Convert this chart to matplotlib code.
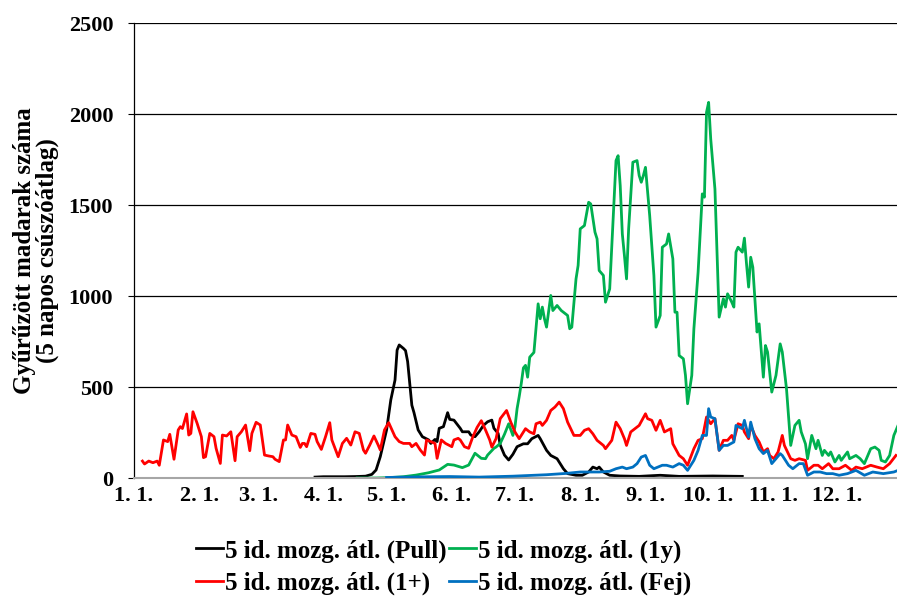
import matplotlib
matplotlib.use("Agg")
import matplotlib.pyplot as plt

# day offsets from Jan 1 and 5-day moving averages
pull_days = [86, 90, 95, 100, 105, 110, 113, 115, 117, 120, 122, 124, 125, 126, 128, 129, 130, 131,
             132, 133, 135, 137, 140, 141, 143, 144, 145, 147, 149, 150, 152, 155, 156, 159, 160, 162,
             164, 166, 168, 170, 171, 173, 174, 176, 178, 180, 182, 185, 187, 189, 192, 193, 196, 198,
             201, 204, 206, 210, 213, 216, 218, 220, 221, 223, 226, 231, 240, 250, 259, 275, 289]
pull_vals = [5, 7, 7, 7, 8, 10, 20, 44, 117, 264, 429, 538, 703, 731, 712, 700, 640, 520,
             400, 360, 264, 227, 209, 190, 212, 200, 273, 282, 359, 322, 318, 273, 254, 254, 236, 227,
             254, 289, 309, 318, 273, 245, 181, 126, 99, 130, 172, 188, 188, 216, 234, 216, 152, 124,
             106, 51, 24, 15, 15, 33, 60, 51, 60, 33, 15, 11, 9, 15, 9, 11, 9]

juv_days = [106, 115, 121, 128, 134, 140, 145, 149, 152, 156, 159, 162, 165, 167, 168, 171, 172, 174,
            176, 178, 180, 181, 182, 183, 184, 185, 186, 187, 188, 190, 192, 193, 194, 195, 196, 198,
            199, 201, 203, 206, 207, 208, 210, 211, 212, 214, 216, 217, 219, 220, 221, 223, 224, 226,
            227, 229, 230, 231, 232, 233, 234, 235, 237, 239, 240, 241, 242, 243, 245, 247, 248, 250,
            251, 252, 253, 254, 256, 257, 258, 259, 261, 262, 263, 265, 266, 268, 270, 271, 272, 273,
            274, 276, 278, 280, 281, 282, 284, 285, 286, 287, 289, 290, 291, 292, 293, 294, 296, 297,
            299, 300, 301, 303, 305, 307, 308, 310, 312, 314, 316, 317, 319, 320, 322, 324, 325, 327,
            328, 330, 331, 333, 335, 336, 339, 340, 343, 345, 347, 350, 352, 354, 355, 357, 359, 361, 363]
juv_vals = [0, 0, 2, 7, 16, 29, 44, 75, 71, 57, 71, 136, 108, 106, 126, 163, 170, 190,
            240, 298, 234, 282, 381, 447, 520, 605, 619, 554, 664, 690, 957, 875, 939, 875, 829, 1003,
            920, 948, 920, 893, 820, 829, 1094, 1168, 1369, 1387, 1515, 1506, 1351, 1314, 1140, 1113, 966, 1039,
            1277, 1744, 1771, 1607, 1341, 1222, 1094, 1369, 1735, 1744, 1662, 1625, 1662, 1707, 1442, 1113, 829, 893,
            1268, 1277, 1286, 1341, 1204, 911, 911, 673, 655, 564, 408, 564, 820, 1131, 1561, 1543, 2009, 2064,
            1863, 1588, 884, 985, 939, 1012, 966, 939, 1241, 1268, 1241, 1318, 1177, 1049, 1213, 1158, 802, 847,
            554, 728, 692, 472, 564, 737, 692, 490, 179, 289, 317, 253, 188, 106, 234, 161, 207, 124,
            152, 124, 143, 88, 124, 97, 143, 106, 124, 106, 79, 161, 170, 152, 97, 88, 124, 234, 289]

adult_days = [4, 5, 7, 9, 11, 12, 14, 16, 17, 19, 21, 22, 23, 25, 26, 27, 28, 30, 32, 33, 34, 36, 38, 39,
              41, 42, 44, 46, 48, 49, 51, 53, 55, 56, 58, 60, 62, 64, 66, 67, 69, 71, 72, 73, 75, 77, 79, 80,
              81, 82, 84, 86, 87, 89, 91, 93, 94, 97, 99, 101, 103, 105, 107, 109, 110, 112, 114, 116, 117, 119,
              121, 124, 126, 128, 131, 132, 134, 136, 138, 139, 141, 143, 144, 146, 148, 151, 152, 154, 155, 157,
              159, 161, 163, 165, 167, 169, 170, 172, 174, 177, 179, 181, 183, 186, 188, 190, 191, 193, 194, 196,
              198, 200, 202, 204, 206, 209, 212, 214, 216, 218, 220, 223, 224, 227, 229, 231, 233, 234, 236, 239,
              240, 243, 244, 246, 248, 250, 252, 255, 256, 259, 261, 263, 266, 268, 270, 272, 274, 276, 278, 280,
              282, 284, 285, 287, 289, 290, 292, 293, 295, 297, 299, 301, 302, 304, 306, 308, 309, 312, 314, 316,
              319, 320, 323, 325, 327, 330, 332, 335, 338, 341, 343, 346, 350, 353, 356, 359, 362]
adult_vals = [93, 77, 93, 84, 93, 70, 209, 200, 240, 103, 264, 282, 272, 352, 236, 245, 364, 300, 227, 112, 117, 245, 227, 163,
              80, 236, 231, 254, 95, 227, 254, 291, 150, 245, 306, 291, 126, 121, 117, 103, 90, 209, 209, 291, 236, 227, 168, 190,
              190, 172, 245, 240, 200, 157, 227, 304, 209, 117, 190, 218, 181, 254, 245, 154, 136, 181, 231, 181, 154, 264,
              304, 227, 200, 190, 190, 172, 190, 154, 126, 209, 200, 190, 108, 209, 190, 172, 209, 218, 209, 172,
              163, 227, 278, 315, 264, 209, 170, 216, 326, 371, 307, 253, 216, 271, 253, 243, 298, 307, 289, 317,
              371, 390, 417, 381, 307, 234, 234, 262, 271, 243, 207, 179, 161, 207, 307, 271, 216, 179, 253, 280,
              289, 353, 326, 317, 262, 317, 253, 271, 188, 124, 106, 70, 161, 207, 216, 335, 298, 326, 152, 207,
              207, 234, 207, 298, 289, 253, 216, 289, 234, 198, 143, 161, 124, 106, 143, 234, 179, 106, 97, 106,
              97, 42, 70, 70, 51, 79, 51, 51, 70, 42, 60, 51, 70, 60, 51, 79, 124]

fej_days = [120, 130, 140, 150, 164, 180, 196, 205, 212, 221, 226, 229, 232, 234, 237, 239, 241, 243, 245, 247,
            251, 253, 256, 259, 261, 263, 266, 268, 270, 272, 273, 274, 276, 278, 280, 282, 285, 286, 289, 290,
            292, 293, 295, 297, 299, 301, 303, 305, 307, 308, 311, 313, 316, 318, 320, 323, 326, 329, 332, 335,
            339, 343, 347, 351, 356, 361, 363]
fej_vals = [3, 5, 7, 8, 5, 10, 18, 25, 33, 33, 37, 51, 60, 51, 60, 79, 115, 124, 70, 51,
            70, 70, 60, 79, 70, 42, 97, 152, 234, 234, 381, 335, 326, 152, 179, 179, 198, 289, 271, 317,
            225, 307, 216, 161, 134, 152, 79, 106, 134, 124, 70, 51, 79, 79, 15, 33, 33, 24, 24, 15,
            24, 42, 15, 33, 24, 33, 42]

month_starts = [0, 31, 59, 90, 120, 151, 181, 212, 243, 273, 304, 334]
month_labels = ["1. 1.", "2. 1.", "3. 1.", "4. 1.", "5. 1.", "6. 1.", "7. 1.", "8. 1.",
                "9. 1.", "10. 1.", "11. 1.", "12. 1."]

plt.rcParams['font.family'] = ['Liberation Serif', 'DejaVu Serif']
plt.rcParams['font.weight'] = 'bold'
plt.rcParams['font.size'] = 16

fig = plt.figure(figsize=(8.97, 5.99), dpi=100)
ax = fig.add_axes([0.1494, 0.202, 0.8506, 0.7596])

l_pull, = ax.plot(pull_days, pull_vals, color='#000000', lw=2)
l_1y, = ax.plot(juv_days, juv_vals, color='#00B050', lw=2)
l_1p, = ax.plot(adult_days, adult_vals, color='#FF0000', lw=2)
l_fej, = ax.plot(fej_days, fej_vals, color='#0070C0', lw=2)
# red and blue drawn over green, like the original
l_1p.set_zorder(3)
l_fej.set_zorder(4)

ax.set_xlim(0, 362.5)
ax.set_ylim(0, 2500)
ax.set_yticks(range(0, 2501, 500))
ax.set_xticks(month_starts)
ax.set_xticklabels(month_labels)
ax.tick_params(axis='x', length=0, pad=6, labelsize=16)
ax.tick_params(axis='y', length=4, width=0.8, pad=11, labelsize=16)
ax.yaxis.grid(True, color='black', lw=0.9)
ax.set_axisbelow(True)
for s in ['top', 'right']:
    ax.spines[s].set_visible(False)
ax.spines['bottom'].set_color('#A6A6A6')
ax.spines['bottom'].set_linewidth(1.5)
ax.spines['left'].set_linewidth(0.9)

ax.set_ylabel("Gyűrűzött madarak száma\n(5 napos csúszóátlag)", fontweight='bold', fontsize=18,
              labelpad=7, linespacing=1.0)

fig.legend([l_pull, l_1p, l_1y, l_fej],
           ["5 id. mozg. átl. (Pull)", "5 id. mozg. átl. (1+)",
            "5 id. mozg. átl. (1y)", "5 id. mozg. átl. (Fej)"],
           ncol=2, loc='upper left', bbox_to_anchor=(0.219, 0.100), frameon=False, fontsize=18,
           handlelength=1.05, handletextpad=0.1, columnspacing=0.1, labelspacing=0.37,
           borderpad=0, borderaxespad=0)

fig.savefig("out.png", dpi=100)
